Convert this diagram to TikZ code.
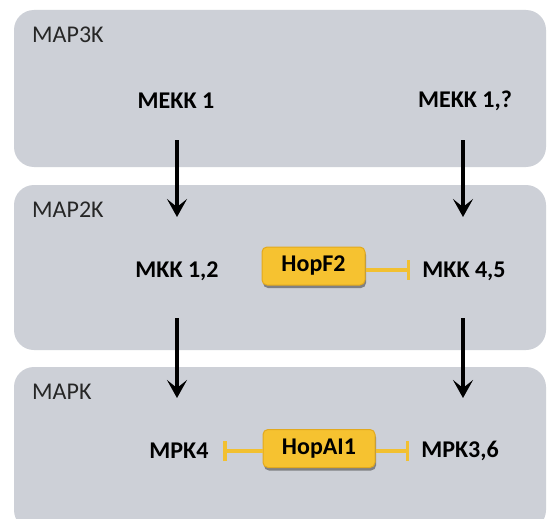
\documentclass[tikz,border=0pt]{standalone}
\usepackage{fontspec}
\setmainfont{Carlito}
\usetikzlibrary{arrows.meta,shadows}
\definecolor{panelgrey}{HTML}{CDD0D7}
\definecolor{hopyellow}{HTML}{F6C230}
\definecolor{hopedge}{HTML}{E2A91E}
\definecolor{inhyellow}{HTML}{F2C030}
\tikzset{
  panel/.style={fill=panelgrey, draw=none, rounded corners=20pt},
  level/.style={font=\fontsize{24}{27}\selectfont, anchor=west, inner sep=0pt, text=black!85},
  prot/.style={font=\bfseries\fontsize{24}{27}\selectfont, inner sep=0pt, text=black},
  hop/.style={font=\bfseries\fontsize{24}{27}\selectfont, fill=hopyellow, draw=hopedge, line width=1pt, rounded corners=5pt, minimum height=38pt, text=black, drop shadow={shadow xshift=1pt, shadow yshift=-3pt, opacity=0.6, fill=black!70}},
  act/.style={line width=4pt, -{Stealth[length=18pt, width=20pt, inset=8pt]}},
  inh/.style={line width=3.5pt, draw=inhyellow, -{Bar[width=20pt, line width=3.5pt]}}
}
\begin{document}
\begin{tikzpicture}[x=1pt, y=-1pt]
\useasboundingbox (0,0) rectangle (549,519);
\fill[white] (0,0) rectangle (549,519);
% panels
\path[panel] (14,10) rectangle (546,167);
\path[panel] (14,185) rectangle (546,350);
\path[panel] (14,367) rectangle (546,530);
% level labels
\node[level] (l3) at (32,35) {MAP3K};
\node[level] (l2) at (32,210) {MAP2K};
\node[level] (l1) at (32,392) {MAPK};
% proteins
\node[prot] (mekk1) at (176,101) {MEKK 1};
\node[prot] (mekk2) at (465,101) {MEKK 1,?};
\node[prot] (mkk12) at (177,271) {MKK 1,2};
\node[prot] (mkk45) at (464,271) {MKK 4,5};
\node[prot] (mpk4) at (179,451) {MPK4};
\node[prot] (mpk36) at (460,451) {MPK3,6};
% effectors
\node[hop, minimum width=103pt] (hopf2) at (313.5,266) {HopF2};
\node[hop, minimum width=112pt] (hopai1) at (319,448.5) {HopAI1};
% coordinates for arrows
\coordinate (a1s) at (177,140);
\coordinate (a1e) at (177,217);
\coordinate (a2s) at (463,140);
\coordinate (a2e) at (463,217);
\coordinate (b1s) at (177,318);
\coordinate (b1e) at (177,398);
\coordinate (b2s) at (463,318);
\coordinate (b2e) at (463,398);
\draw[act] (a1s) -- (a1e);
\draw[act] (a2s) -- (a2e);
\draw[act] (b1s) -- (b1e);
\draw[act] (b2s) -- (b2e);
% inhibitions
\coordinate (i1) at (410,270);
\coordinate (i2) at (223,451);
\coordinate (i3) at (409,451);
\draw[inh] (hopf2.east |- i1) -- (i1);
\draw[inh] (hopai1.west |- i2) -- (i2);
\draw[inh] (hopai1.east |- i3) -- (i3);
\end{tikzpicture}
\end{document}
